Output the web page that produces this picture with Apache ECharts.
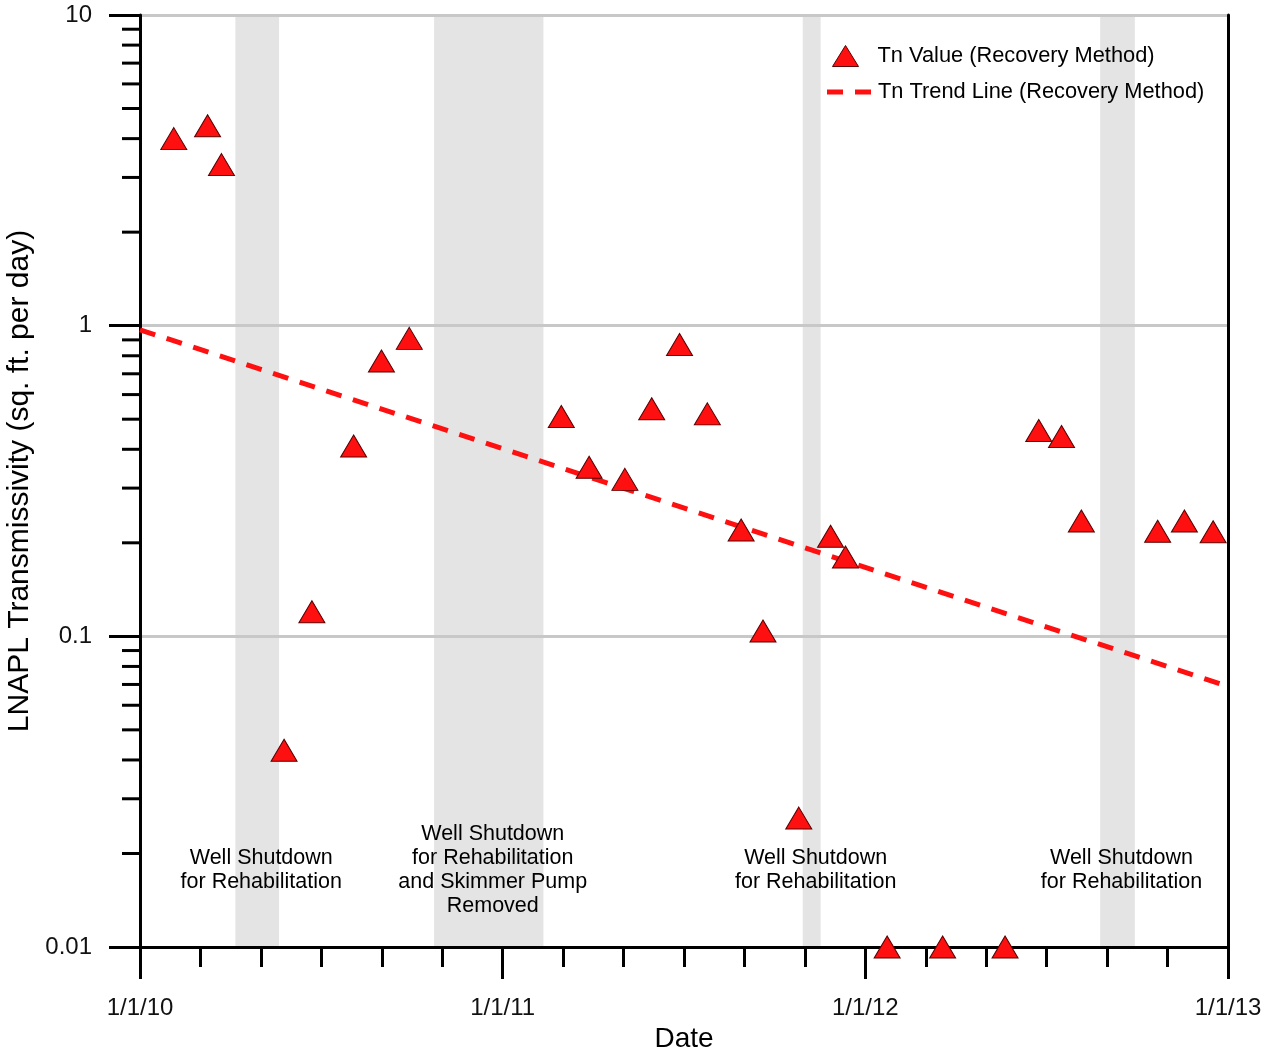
<!DOCTYPE html>
<html>
<head>
<meta charset="utf-8">
<title>LNAPL Transmissivity</title>
<script src="https://cdn.jsdelivr.net/npm/echarts@6/dist/echarts.min.js"></script>
<style>
  html, body { margin: 0; padding: 0; background: #fff; }
  #chart { width: 1268px; height: 1057px; }
</style>
</head>
<body>
<div id="chart"></div>
<script>
// Tn measurements (recovery method)
const sampleDates = [
  '2010-02-04', '2010-03-10', '2010-03-24', '2010-05-26', '2010-06-23',
  '2010-08-04', '2010-09-01', '2010-09-29', '2011-03-01', '2011-03-29',
  '2011-05-04', '2011-05-31', '2011-06-28', '2011-07-26', '2011-08-29',
  '2011-09-20', '2011-10-26', '2011-11-27', '2011-12-12', '2012-01-23',
  '2012-03-19', '2012-05-21', '2012-06-24', '2012-07-17', '2012-08-06',
  '2012-10-22', '2012-11-18', '2012-12-17'
];
const tnValues = [
  4.0, 4.4, 3.3, 0.043, 0.12,
  0.41, 0.77, 0.91, 0.51, 0.35,
  0.32, 0.54, 0.87, 0.52, 0.22,
  0.104, 0.026, 0.21, 0.18, 0.01,
  0.01, 0.01, 0.46, 0.44, 0.235,
  0.218, 0.235, 0.217
];

// Exponential trend line end points
const trendDates = ['2010-01-01', '2013-01-01'];
const trendValues = [0.97, 0.069];

// Well shutdown periods
const shutdownStarts = ['2010-04-07', '2010-10-24', '2011-10-30', '2012-08-25'];
const shutdownEnds   = ['2010-05-21', '2011-02-11', '2011-11-17', '2012-09-29'];
const shutdownNotes  = [
  'Well Shutdown\nfor Rehabilitation',
  'Well Shutdown\nfor Rehabilitation\nand Skimmer Pump\nRemoved',
  'Well Shutdown\nfor Rehabilitation',
  'Well Shutdown\nfor Rehabilitation'
];

// Axis ticks
const yearTicks = [2010, 2011, 2012, 2013];
const yMinorTicks = [
  0.02, 0.03, 0.04, 0.05, 0.06, 0.07, 0.08, 0.09,
  0.2, 0.3, 0.4, 0.5, 0.6, 0.7, 0.8, 0.9,
  2, 3, 4, 5, 6, 7, 8, 9
];

// Convert an ISO date to a fractional year
function toYear(s) {
  const [y, m, d] = s.split('-').map(Number);
  const start = Date.UTC(y, 0, 1);
  const end = Date.UTC(y + 1, 0, 1);
  return y + (Date.UTC(y, m - 1, d) - start) / (end - start);
}

const FONT = "'Liberation Sans', Arial, sans-serif";
const X_MIN = yearTicks[0];
const X_MAX = yearTicks[yearTicks.length - 1];
const RED = '#ff1010';
const POINTS_NAME = 'Tn Value (Recovery Method)';
const TREND_NAME = 'Tn Trend Line (Recovery Method)';

const chart = echarts.init(document.getElementById('chart'), null, { renderer: 'canvas' });

const legendText = { fontFamily: FONT, fontSize: 21.8, color: '#000' };

const option = {
  backgroundColor: '#ffffff',
  animation: false,
  textStyle: { fontFamily: FONT, color: '#000' },
  grid: { left: 140, right: 40, top: 15, bottom: 110, containLabel: false, outerBoundsMode: 'none' },
  legend: [
    {
      left: 827,
      top: 40,
      itemWidth: 26,
      itemHeight: 21,
      selectedMode: false,
      textStyle: Object.assign({ padding: [0, 0, 0, 14] }, legendText),
      data: [{
        name: POINTS_NAME,
        icon: 'triangle',
        itemStyle: { color: RED, borderColor: '#5a0000', borderWidth: 1 }
      }]
    },
    {
      left: 822,
      top: 76,
      itemWidth: 44,
      itemHeight: 5,
      selectedMode: false,
      textStyle: Object.assign({ padding: [0, 0, 0, 2] }, legendText),
      data: [{
        name: TREND_NAME,
        icon: 'path://M0,0h16v5h-16z M28,0h16v5h-16z',
        itemStyle: { color: RED, borderWidth: 0 }
      }]
    }
  ],
  xAxis: {
    type: 'value',
    min: X_MIN,
    max: X_MAX,
    interval: 1,
    name: 'Date',
    nameLocation: 'middle',
    nameGap: 77,
    nameTextStyle: { fontFamily: FONT, fontSize: 28, color: '#000' },
    z: 3,
    axisLine: { show: true, onZero: false, lineStyle: { color: '#000', width: 3 } },
    axisTick: { show: true, length: 32, lineStyle: { color: '#000', width: 3 } },
    minorTick: { show: true, splitNumber: 6, length: 20, lineStyle: { color: '#000', width: 3 } },
    axisLabel: {
      margin: 49,
      fontFamily: FONT,
      fontSize: 24,
      color: '#111',
      formatter: v => '1/1/' + String(Math.round(v) % 100).padStart(2, '0')
    },
    splitLine: { show: false },
    minorSplitLine: { show: false }
  },
  yAxis: [
    {
      type: 'log',
      logBase: 10,
      min: 0.01,
      max: 10,
      name: 'LNAPL Transmissivity (sq. ft. per day)',
      nameLocation: 'middle',
      nameGap: 98,
      nameTextStyle: { fontFamily: FONT, fontSize: 30, color: '#000' },
      z: 3,
      axisLine: { show: true, lineStyle: { color: '#000', width: 3 } },
      axisTick: { show: true, length: 31, lineStyle: { color: '#000', width: 3 } },
      axisLabel: {
        margin: 48,
        fontFamily: FONT,
        fontSize: 24,
        color: '#111',
        formatter: v => String(+v.toPrecision(2))
      },
      splitLine: { show: true, lineStyle: { color: '#c8c8c8', width: 3 } }
    },
    {
      type: 'log',
      logBase: 10,
      min: 0.01,
      max: 10,
      position: 'right',
      z: 3,
      axisLine: { show: true, lineStyle: { color: '#000', width: 3 } },
      axisTick: { show: false },
      axisLabel: { show: false },
      splitLine: { show: false }
    }
  ],
  series: [
    {
      // shaded shutdown periods with notes
      name: 'shutdowns',
      type: 'line',
      data: [],
      z: 1,
      silent: true,
      markArea: {
        silent: true,
        itemStyle: { color: '#e4e4e4' },
        label: {
          show: true,
          position: ['50%', '91.7%'],
          offset: [4, 0],
          align: 'center',
          verticalAlign: 'middle',
          fontFamily: FONT,
          fontSize: 21.5,
          lineHeight: 24,
          color: '#000'
        },
        data: shutdownStarts.map((s, i) => [
          { xAxis: toYear(s), name: shutdownNotes[i] },
          { xAxis: toYear(shutdownEnds[i]) }
        ])
      }
    },
    {
      // minor ticks of the log axis (2..9 per decade)
      name: 'yMinorTicks',
      type: 'custom',
      silent: true,
      z: 3,
      clip: false,
      data: yMinorTicks.map(v => [X_MIN, v]),
      renderItem: (params, api) => {
        const p = api.coord([api.value(0), api.value(1)]);
        return {
          type: 'line',
          shape: { x1: p[0] - 18, y1: p[1], x2: p[0], y2: p[1] },
          style: { stroke: '#000', lineWidth: 3 }
        };
      }
    },
    {
      name: TREND_NAME,
      type: 'line',
      z: 4,
      symbol: 'none',
      data: trendDates.map((d, i) => [toYear(d), trendValues[i]]),
      lineStyle: { color: RED, width: 5, type: [16, 12], cap: 'butt' },
      itemStyle: { color: RED }
    },
    {
      name: POINTS_NAME,
      type: 'scatter',
      z: 5,
      clip: false,
      symbol: 'triangle',
      symbolSize: [26, 22],
      data: sampleDates.map((d, i) => [toYear(d), tnValues[i]]),
      itemStyle: { color: RED, borderColor: '#5a0000', borderWidth: 1, opacity: 1 }
    }
  ]
};

chart.setOption(option);
</script>
</body>
</html>
